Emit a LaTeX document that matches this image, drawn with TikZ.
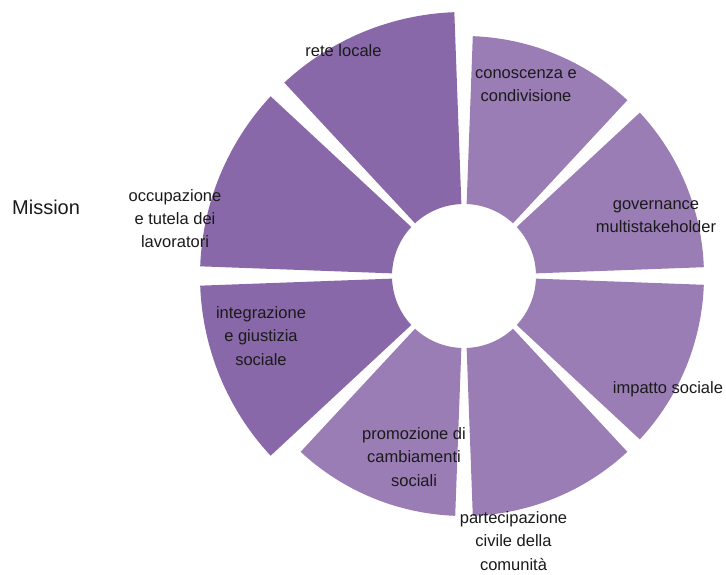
\documentclass[tikz,border=0pt]{standalone}
\usepackage{fontspec}
\setmainfont{Liberation Sans}
\usetikzlibrary{calc}
\definecolor{darkp}{HTML}{8868A8}
\definecolor{lightp}{HTML}{9B7DB5}
\definecolor{txt}{HTML}{1A1A1A}
\begin{document}
\begin{tikzpicture}[x=1pt,y=1pt,
  lbl/.style={font=\fontsize{16.5}{23.2}\selectfont, text=txt, align=center, inner sep=0pt, anchor=base},
  ttl/.style={font=\fontsize{20}{24}\selectfont, text=txt, inner sep=0pt, anchor=base west}]
\useasboundingbox (0,0) rectangle (726,574);
\coordinate (C) at (464,298);
\foreach \a/\R/\c in {90/264/darkp,135/264/darkp,180/264/darkp,225/240/lightp,270/240/lightp,315/240/lightp,0/240/lightp,45/240/lightp}{
  \pgfmathsetmacro\aa{\a+2.1}
  \pgfmathsetmacro\bb{\a+45-2.1}
  \fill[\c] ($(C)+(\aa:72)$) -- ($(C)+(\aa:\R)$) arc[start angle=\aa, end angle=\bb, radius=\R pt] -- ($(C)+(\bb:72)$) arc[start angle=\bb, end angle=\aa, radius=72pt] -- cycle;
}
\node[ttl] (mission) at (12,359) {Mission};
\node[lbl] (rete) at (343.5,517) {rete locale};
\node[lbl] (cono) at (526,472) {conoscenza e\\condivisione};
\node[lbl] (gov) at (656,341) {governance\\multistakeholder};
\node[lbl] (imp) at (668,181) {impatto sociale};
\node[lbl] (part) at (513.5,4) {partecipazione\\civile della\\comunità};
\node[lbl] (prom) at (414,88) {promozione di\\cambiamenti\\sociali};
\node[lbl] (integ) at (261,209) {integrazione\\e giustizia\\sociale};
\node[lbl] (occ) at (175,326) {occupazione\\e tutela dei\\lavoratori};
\end{tikzpicture}
\end{document}
